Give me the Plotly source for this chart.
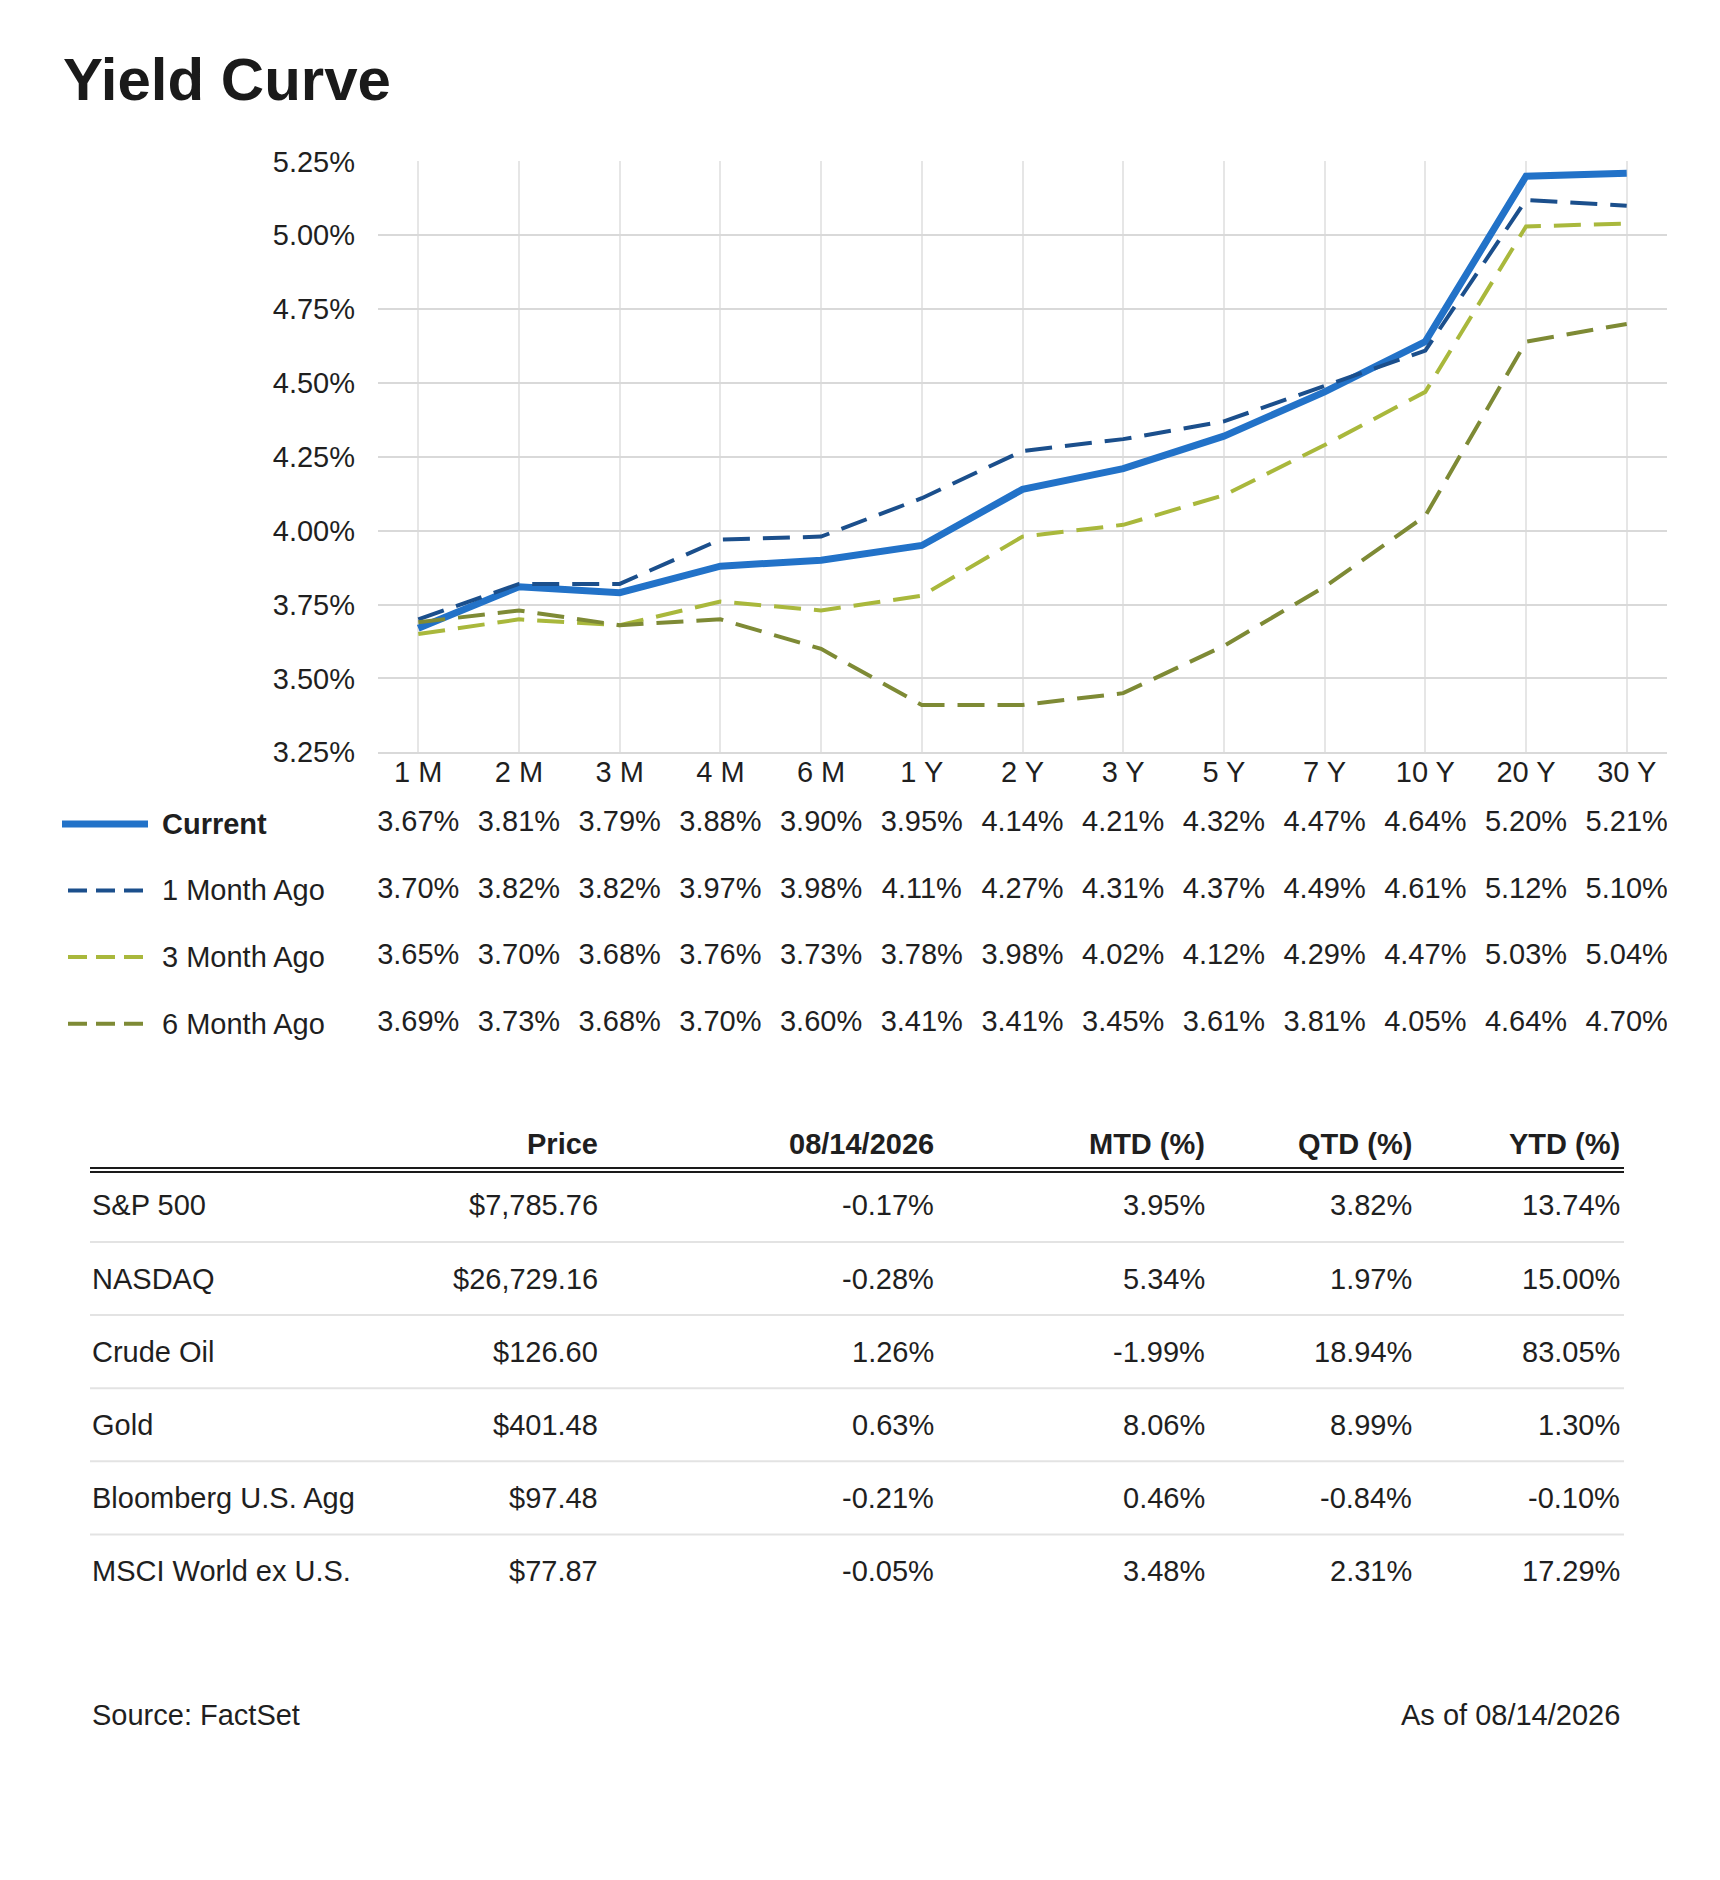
import plotly.graph_objects as go

# Yield curve data
TENORS = ["1 M", "2 M", "3 M", "4 M", "6 M", "1 Y", "2 Y", "3 Y", "5 Y", "7 Y", "10 Y", "20 Y", "30 Y"]
CURRENT = [3.67, 3.81, 3.79, 3.88, 3.90, 3.95, 4.14, 4.21, 4.32, 4.47, 4.64, 5.20, 5.21]
MONTH_1 = [3.70, 3.82, 3.82, 3.97, 3.98, 4.11, 4.27, 4.31, 4.37, 4.49, 4.61, 5.12, 5.10]
MONTH_3 = [3.65, 3.70, 3.68, 3.76, 3.73, 3.78, 3.98, 4.02, 4.12, 4.29, 4.47, 5.03, 5.04]
MONTH_6 = [3.69, 3.73, 3.68, 3.70, 3.60, 3.41, 3.41, 3.45, 3.61, 3.81, 4.05, 4.64, 4.70]
SERIES_NAMES = ["Current", "1 Month Ago", "3 Month Ago", "6 Month Ago"]

# Market table data
TABLE_HEADERS = ["", "Price", "08/14/2026", "MTD (%)", "QTD (%)", "YTD (%)"]
ASSETS = ["S&P 500", "NASDAQ", "Crude Oil", "Gold", "Bloomberg U.S. Agg", "MSCI World ex U.S."]
PRICE = [7785.76, 26729.16, 126.60, 401.48, 97.48, 77.87]
DAY_CHG = [-0.17, -0.28, 1.26, 0.63, -0.21, -0.05]
MTD = [3.95, 5.34, -1.99, 8.06, 0.46, 3.48]
QTD = [3.82, 1.97, 18.94, 8.99, -0.84, 2.31]
YTD = [13.74, 15.00, 83.05, 1.30, -0.10, 17.29]

TITLE = "Yield Curve"
SOURCE = "Source: FactSet"
AS_OF = "As of 08/14/2026"

# page geometry (px)
W, H = 1720, 1880
FONT = "Liberation Sans, Arial, sans-serif"
TEXT = "#1f1f1f"
COLORS = ["#2272c8", "#1b4f8c", "#a9b83c", "#7e8a35"]
WIDTHS = [7, 4, 4, 4]
DASHES = ["solid", "27px,13px", "27px,13px", "27px,13px"]

PLOT_L, PLOT_R, PLOT_T, PLOT_B = 378, 1667, 148, 749
ROWS_T, ROWS_B = 788, 1059
COL_X = [90, 600, 936, 1207, 1414, 1622]
HEADER_Y = 1148
ROW0_Y = 1210
ROW_H = 74.4
X_RANGE = [-0.4, len(TENORS) - 0.6]


def pct(v):
    return f"{v:.2f}%"


fig = go.Figure()

series = [CURRENT, MONTH_1, MONTH_3, MONTH_6]
for name, vals, color, width, dash in zip(SERIES_NAMES, series, COLORS, WIDTHS, DASHES):
    fig.add_trace(
        go.Scatter(
            x=TENORS,
            y=vals,
            name=name,
            mode="lines",
            line=dict(color=color, width=width, dash=dash),
            xaxis="x",
            yaxis="y",
        )
    )

# data rows under the chart
for i, vals in enumerate(series):
    fig.add_trace(
        go.Scatter(
            x=TENORS,
            y=[i] * len(TENORS),
            mode="text",
            text=[pct(v) for v in vals],
            textposition="middle center",
            textfont=dict(size=29, color=TEXT, family=FONT),
            xaxis="x3",
            yaxis="y2",
            showlegend=False,
        )
    )

annotations = []
shapes = []

# title
annotations.append(dict(
    text=TITLE, x=61, y=65, xref="x2", yref="y3", xanchor="left", yanchor="middle",
    showarrow=False, font=dict(size=60, color="#1a1a1a", family=FONT, weight=700),
))

# legend swatches and labels
row_ys = [ROWS_T + (ROWS_B - ROWS_T) / 8 * (2 * i + 1) for i in range(4)]
for i, (name, color, width) in enumerate(zip(SERIES_NAMES, COLORS, WIDTHS)):
    y = row_ys[i]
    if i == 0:
        shapes.append(dict(type="line", xref="x2", yref="y3", x0=62, x1=148, y0=y, y1=y,
                           line=dict(color=color, width=width)))
    else:
        shapes.append(dict(type="line", xref="x2", yref="y3", x0=68, x1=143, y0=y, y1=y,
                           line=dict(color=color, width=width, dash="19px,9px")))
    annotations.append(dict(
        text=name, x=160, y=y, xref="x2", yref="y3", xanchor="left", yanchor="middle",
        showarrow=False,
        font=dict(size=29, color=TEXT, family=FONT, weight=700 if i == 0 else 400),
    ))

# table header
for j, head in enumerate(TABLE_HEADERS):
    if not head:
        continue
    annotations.append(dict(
        text=head, x=COL_X[j], y=HEADER_Y, xref="x2", yref="y3", xanchor="right",
        yanchor="middle", showarrow=False,
        font=dict(size=29, color=TEXT, family=FONT, weight=700),
    ))
for yy in (1172, 1176):
    shapes.append(dict(type="line", xref="x2", yref="y3", x0=COL_X[0], x1=COL_X[-1] + 2,
                       y0=yy, y1=yy, line=dict(color="#1a1a1a", width=2)))

# table body
columns = [
    ASSETS,
    [f"${v:,.2f}" for v in PRICE],
    [pct(v) for v in DAY_CHG],
    [pct(v) for v in MTD],
    [pct(v) for v in QTD],
    [pct(v) for v in YTD],
]
for r in range(len(ASSETS)):
    y = ROW0_Y + r * ROW_H
    for j, col in enumerate(columns):
        annotations.append(dict(
            text=col[r], x=COL_X[j], y=y, xref="x2", yref="y3",
            xanchor="left" if j == 0 else "right", yanchor="middle", showarrow=False,
            font=dict(size=29, color=TEXT, family=FONT),
        ))
    if r < len(ASSETS) - 1:
        sep = y + ROW_H / 2
        shapes.append(dict(type="line", xref="x2", yref="y3", x0=COL_X[0], x1=COL_X[-1] + 2,
                           y0=sep, y1=sep, line=dict(color="#e3e3e3", width=2)))

# footer
annotations.append(dict(text=SOURCE, x=COL_X[0], y=1728, xref="x2", yref="y3",
                        xanchor="left", yanchor="middle", showarrow=False,
                        font=dict(size=29, color=TEXT, family=FONT)))
annotations.append(dict(text=AS_OF, x=COL_X[-1], y=1728, xref="x2", yref="y3",
                        xanchor="right", yanchor="middle", showarrow=False,
                        font=dict(size=29, color=TEXT, family=FONT)))

fig.update_layout(
    width=W,
    height=H,
    autosize=False,
    margin=dict(l=0, r=0, t=0, b=0),
    paper_bgcolor="white",
    plot_bgcolor="rgba(0,0,0,0)",
    showlegend=False,
    font=dict(family=FONT, size=29, color=TEXT),
    xaxis=dict(
        domain=[PLOT_L / W, PLOT_R / W],
        anchor="y",
        type="category",
        categoryorder="array",
        categoryarray=TENORS,
        range=X_RANGE,
        showgrid=True,
        gridcolor="#e6e6e6",
        gridwidth=2,
        showline=True,
        linecolor="#d9d9d9",
        linewidth=2,
        ticks="",
        ticklabelstandoff=-7,
        tickfont=dict(size=29, color=TEXT),
        fixedrange=True,
    ),
    yaxis=dict(
        domain=[1 - PLOT_B / H, 1 - PLOT_T / H],
        anchor="x",
        range=[3.25, 5.25],
        tick0=3.25,
        dtick=0.25,
        tickformat=".2f",
        ticksuffix="%",
        showgrid=True,
        gridcolor="#d9d9d9",
        gridwidth=2,
        zeroline=False,
        showline=False,
        ticks="",
        ticklabelstandoff=22,
        tickfont=dict(size=29, color=TEXT),
        fixedrange=True,
    ),
    xaxis3=dict(
        domain=[PLOT_L / W, PLOT_R / W],
        anchor="y2",
        type="category",
        categoryorder="array",
        categoryarray=TENORS,
        range=X_RANGE,
        visible=False,
        fixedrange=True,
    ),
    yaxis2=dict(
        domain=[1 - ROWS_B / H, 1 - ROWS_T / H],
        anchor="x3",
        range=[3.5, -0.5],
        visible=False,
        fixedrange=True,
    ),
    xaxis2=dict(domain=[0, 1], anchor="y3", range=[0, W], visible=False, fixedrange=True),
    yaxis3=dict(domain=[0, 1], anchor="x2", range=[H, 0], visible=False, fixedrange=True),
    annotations=annotations,
    shapes=shapes,
)

fig.write_html(
    "out.html",
    config={"displayModeBar": False},
    post_script="document.body.style.margin = '0px';",
)
